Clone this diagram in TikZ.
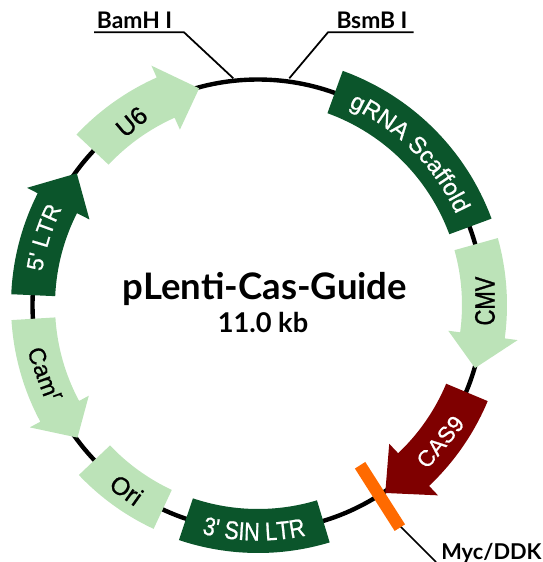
\documentclass[tikz,border=0pt]{standalone}
\usepackage{fontspec}
\usepackage{xcolor}
\usetikzlibrary{positioning,calc,decorations.text}

\newfontfamily\titlefont{Lato}[BoldFont={Lato Bold}]
\newfontfamily\featfont{Liberation Sans}[FakeBold=0.8]
\newfontfamily\condfont{Liberation Sans}[FakeBold=0.8,FakeStretch=0.85]
\newfontfamily\narrowfont{Liberation Sans}[FakeBold=1,FakeStretch=0.78]

\definecolor{darkgreen}{RGB}{11,85,43}
\definecolor{lightgreen}{RGB}{188,227,184}
\definecolor{darkred}{RGB}{127,0,0}
\definecolor{tagorange}{RGB}{255,106,0}

\tikzset{
	backbone/.style={line width=2.5pt,black},
	leader/.style={line width=1pt,black},
	sitelabel/.style={font=\titlefont\bfseries\fontsize{13}{15}\selectfont,anchor=base,inner sep=0pt},
	darklabel/.style={font=\featfont\fontsize{13}{15}\selectfont,white},
	lightlabel/.style={font=\featfont\fontsize{14.2}{16}\selectfont,black},
}

\begin{document}
\begin{tikzpicture}[x=0.02cm,y=0.02cm]
		\useasboundingbox (0,0) rectangle (543,-562);
		
		% sites and leaders
		\coordinate (bamA) at (94,-32.3);
		\coordinate (bamB) at (184,-32.3);
		\coordinate (bamC) at (233.3,-78.3);
		\coordinate (bsmA) at (289.3,-78.3);
		\coordinate (bsmB) at (328,-32.3);
		\coordinate (bsmC) at (413.7,-32.3);
		\coordinate (mycA) at (400,-526);
		\coordinate (mycB) at (436,-562);
		
		\draw[leader] (bamA) -- (bamB) -- (bamC);
		\draw[leader] (bsmA) -- (bsmB) -- (bsmC);
		\draw[leader] (mycA) -- (mycB);
		
		\node[sitelabel] (bamh) at (134.5,-28.5) {BamH I};
		\node[sitelabel] (bsmb) at (372,-28.5) {BsmB I};
		\node[sitelabel,font=\titlefont\bfseries\fontsize{12.4}{15}\selectfont,anchor=base west] (myc) at (441,-559) {Myc/DDK};
		
		\node[font=\titlefont\bfseries\fontsize{20.8}{24}\selectfont,anchor=base] (title) at (265,-299) {pLenti-Cas-Guide};
		\node[font=\titlefont\bfseries\fontsize{15.5}{18}\selectfont,anchor=base] (size) at (263,-332.7) {11.0 kb};
		
		\begin{scope}[shift={(258,-305)}]
			\draw[backbone] (0,0) circle (225.5);
			
			% gRNA Scaffold
			\fill[darkgreen] (70.1:249) arc[start angle=70.1,end angle=20.3,radius=249] -- (20.3:204) arc[start angle=20.3,end angle=70.1,radius=204] -- cycle;
			% CMV
			\fill[lightgreen] (15.6:249) arc[start angle=15.6,end angle=-7.7,radius=249] -- (-7.7:262) -- (-16.2:226) -- (-7.7:192) -- (-7.7:204) arc[start angle=-7.7,end angle=15.6,radius=204] -- cycle;
			% CAS9
			\fill[darkred] (-22.7:249) arc[start angle=-22.7,end angle=-46.6,radius=249] -- (-46.6:262) -- (-55.9:227) -- (-46.6:191) -- (-46.6:204) arc[start angle=-46.6,end angle=-22.7,radius=204] -- cycle;
			% 3' SIN LTR
			\fill[darkgreen] (251.4:248) arc[start angle=251.4,end angle=286.8,radius=248] -- (286.8:204) arc[start angle=286.8,end angle=251.4,radius=204] -- cycle;
			% Ori
			\fill[lightgreen] (223.5:247) arc[start angle=223.5,end angle=245,radius=247] -- (245:204) arc[start angle=245,end angle=223.5,radius=204] -- cycle;
			% Cam
			\fill[lightgreen] (183.5:247) arc[start angle=183.5,end angle=208.2,radius=247] -- (208.2:259) -- (216.3:224) -- (208.2:192) -- (208.2:203) arc[start angle=208.2,end angle=183.5,radius=203] -- cycle;
			% 5' LTR
			\fill[darkgreen] (177.5:247) arc[start angle=177.5,end angle=153.1,radius=247] -- (153.1:259) -- (144:224) -- (153.1:189) -- (153.1:203) arc[start angle=153.1,end angle=177.5,radius=203] -- cycle;
			% U6
			\fill[lightgreen] (136.8:249) arc[start angle=136.8,end angle=114,radius=249] -- (114:262) -- (105.2:224.5) -- (114:192) -- (114:205) arc[start angle=114,end angle=136.8,radius=205] -- cycle;
			
			% Myc tag
			\draw[tagorange,line width=7pt] (-57.5:190) -- (-57.5:264);
			
			% labels
			\path[decorate,decoration={text along path,text align=center,text={|\featfont\fontsize{13.5}{15}\selectfont\color{white}|gRNA Scaffold}}] (68:218) arc[start angle=68,end angle=22,radius=218];
			\path[decorate,decoration={text along path,text align=center,text={|\condfont\fontsize{14.5}{16}\selectfont\color{white}|3' SIN LTR}}] (251:235.5) arc[start angle=251,end angle=287,radius=235.5];
			\path[decorate,decoration={text along path,text align=center,text={|\featfont\fontsize{13}{15}\selectfont\color{white}|5' LTR}}] (177:218.5) arc[start angle=177,end angle=148,radius=218.5];
			
			\node[lightlabel,rotate=40] (u6) at (124.6:222.6) {U6};
			\node[lightlabel,font=\narrowfont\fontsize{16}{18}\selectfont,rotate=90] (cmv) at (1:227) {CMV};
			\node[darklabel,rotate=50] (cas9) at (-36.9:228) {CAS9};
			\node[lightlabel,rotate=-35.5] (ori) at (234.6:227) {Ori};
			\node[lightlabel,font=\featfont\fontsize{13.5}{16}\selectfont,rotate=-70] (cam) at (198:224) {Cam\textsuperscript{r}};
		\end{scope}
	\end{tikzpicture}
\end{document}
